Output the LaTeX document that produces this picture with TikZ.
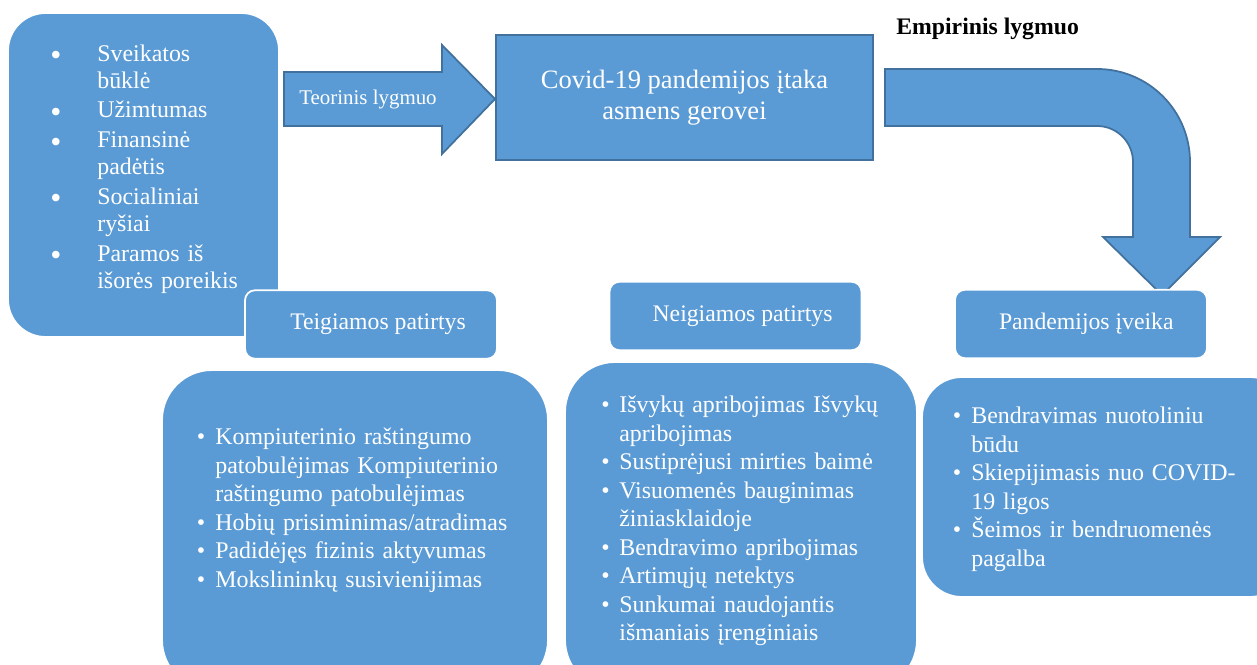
\documentclass[tikz,border=0pt]{standalone}
\usepackage{fontspec}
\setmainfont{Liberation Serif}
\definecolor{boxblue}{RGB}{91,155,213}
\definecolor{edgeblue}{RGB}{65,113,156}
\newlength{\bulind}
\newcommand{\bulmark}{\textbullet}
\newcommand{\itm}[1]{\par\hangindent=\bulind\hangafter=1\noindent\hbox to\bulind{\bulmark\hfil}\strut#1\par}

\begin{document}
\begin{tikzpicture}[x=0.02cm,y=-0.02cm,
	roundbox/.style={draw=white,line width=1pt,fill=boxblue,rounded corners=#1,inner sep=0pt},
	titlebox/.style={roundbox=0.2cm,minimum width=5.04cm,minimum height=1.37cm,text=white,font=\fontsize{13.5}{16}\selectfont},
	listtext/.style={anchor=north west,inner sep=0pt,text=white,align=left,text width=#1,font=\fontsize{13.6}{16.2}\selectfont},
	blockarrow/.style={draw=edgeblue,line width=1pt,fill=boxblue}]
	\clip (0,0) rectangle (1257,665);

	\node[roundbox=0.75cm,minimum width=5.42cm,minimum height=6.48cm] (lbox) at (143.5,175) {};
	\node[listtext=4.6cm,font=\fontsize{13.6}{15.3}\selectfont] (ltext) at (50,31) {\setlength{\bulind}{0.94cm}\setlength{\parskip}{1.7pt}%
		\renewcommand{\bulmark}{\smash{\raisebox{-2.4pt}{\fontsize{18}{18}\selectfont\textbullet}}}%
		\itm{Sveikatos\newline būklė}
		\itm{Užimtumas}
		\itm{Finansinė\newline padėtis}
		\itm{Socialiniai\newline ryšiai}
		\itm{Paramos iš\newline išorės poreikis}};

	\draw[blockarrow] (284,72) -- (442,72) -- (442,45) -- (495,99) -- (442,154) -- (442,126) -- (284,126) -- cycle;
	\node[text=white,font=\fontsize{11.9}{14}\selectfont] (teor) at (368,100) {Teorinis lygmuo};

	\node[draw=edgeblue,line width=1pt,fill=boxblue,minimum width=7.54cm,minimum height=2.5cm,
		text=white,align=center,font=\fontsize{15.1}{18}\selectfont] (covid) at (684.5,97.5) {Covid-19 pandemijos įtaka\\asmens gerovei};

	\node[anchor=base west,inner sep=0pt,font=\bfseries\fontsize{13.5}{16}\selectfont] (empir) at (896,35) {Empirinis lygmuo};
	\draw[blockarrow] (885,69) -- (1097,69) .. controls (1148.4,69) and (1190,110.6) .. (1190,162)
		-- (1190,237) -- (1220,237) -- (1162,295) -- (1103,237) -- (1133,237) -- (1133,162)
		.. controls (1133,142.1) and (1116.9,126) .. (1097,126) -- (885,126) -- cycle;

	\node[titlebox] (teig) at (371,324.5) {\hspace*{8pt}Teigiamos patirtys};
	\node[titlebox] (neig) at (735.5,316) {\hspace*{8pt}Neigiamos patirtys};
	\node[titlebox] (iveik) at (1081,324) {\hspace*{6pt}Pandemijos įveika};

	\node[roundbox=1cm,minimum width=7.72cm,minimum height=6.4cm] (pbox) at (355,530) {};
	\node[listtext=7cm] (ptext) at (196.5,416) {\setlength{\bulind}{0.37cm}%
		\itm{Kompiuterinio raštingumo\newline patobulėjimas Kompiuterinio\newline raštingumo patobulėjimas}
		\itm{Hobių prisiminimas/atradimas}
		\itm{Padidėjęs fizinis aktyvumas}
		\itm{Mokslininkų susivienijimas}};

	\node[roundbox=1cm,minimum width=7.04cm,minimum height=6.56cm] (nbox) at (741,526) {};
	\node[listtext=6.4cm] (ntext) at (601,384) {\setlength{\bulind}{0.36cm}%
		\itm{Išvykų apribojimas Išvykų\newline apribojimas}
		\itm{Sustiprėjusi mirties baimė}
		\itm{Visuomenės bauginimas\newline žiniasklaidoje}
		\itm{Bendravimo apribojimas}
		\itm{Artimųjų netektys}
		\itm{Sunkumai naudojantis\newline išmaniais įrenginiais}};

	\node[roundbox=0.8cm,minimum width=7.36cm,minimum height=4.4cm] (rbox) at (1106,487) {};
	\node[listtext=6cm] (rtext) at (952.5,395) {\setlength{\bulind}{0.37cm}%
		\itm{Bendravimas nuotoliniu\newline būdu}
		\itm{Skiepijimasis nuo COVID-\newline 19 ligos}
		\itm{Šeimos ir bendruomenės\newline pagalba}};
\end{tikzpicture}
\end{document}
